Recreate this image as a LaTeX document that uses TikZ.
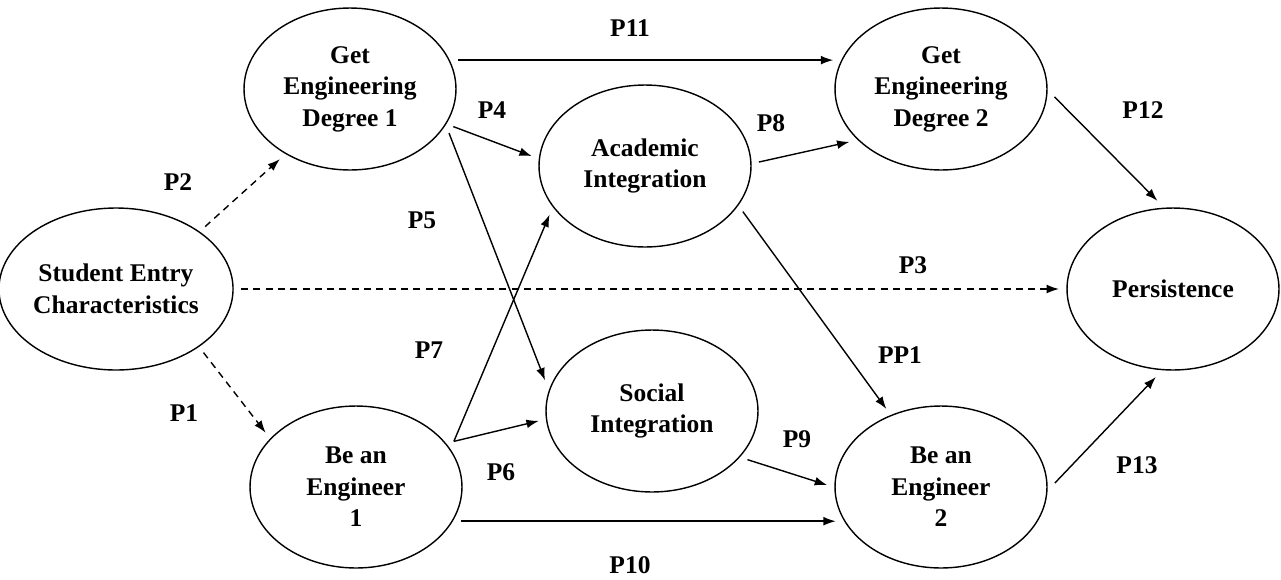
\documentclass[tikz,border=0pt]{standalone}
\usepackage{fontspec}
\setmainfont{Liberation Serif}
\usetikzlibrary{shapes.geometric,positioning,arrows.meta}

\tikzset{
  factor/.style={ellipse, draw, thick, minimum width=4.24cm, minimum height=3.24cm,
    inner sep=0pt, outer sep=0.16cm, align=center,
    font=\bfseries\fontsize{14.5}{18}\selectfont},
  plabel/.style={font=\bfseries\fontsize{14.5}{18}\selectfont},
  link/.style={-{Latex[length=7pt,width=5pt]}, thick},
  entry/.style={-{Latex[length=7pt,width=5pt]}, thick, dash pattern=on 4pt off 3pt}
}

\begin{document}
\begin{tikzpicture}[x=0.02cm, y=-0.02cm]
      \useasboundingbox (0,0) rectangle (1281,579);
      \node[factor] (SEC) at (116,289) {Student Entry\\Characteristics};
      \node[factor] (GED1) at (350,89) {Get\\Engineering\\Degree 1};
      \node[factor] (BAE1) at (356,487) {Be an\\Engineer\\1};
      \node[factor] (AI) at (645,166) {Academic\\Integration};
      \node[factor] (SI) at (652,411) {Social\\Integration};
      \node[factor] (GED2) at (941,89) {Get\\Engineering\\Degree 2};
      \node[factor] (BAE2) at (941,487) {Be an\\Engineer\\2};
      \node[factor] (PER) at (1173,289) {Persistence};
      \draw[entry] (SEC.35) -- (GED1.225);
      \draw[entry] (SEC.-36) -- (BAE1.149);
      \draw[entry] (SEC.east) -- (PER.west);
      \draw[link] (GED1.15) -- (GED2.165);
      \draw[link] (GED1.-20) -- (AI.175);
      \draw[link] (GED1.-24) -- (SI.164);
      \draw[link] (BAE1.25) -- (AI.207);
      \draw[link] (BAE1.25) -- (SI.185);
      \draw[link] (BAE1.-18) -- (BAE2.198);
      \draw[link] (AI.2) -- (GED2.210);
      \draw[link] (AI.-25) -- (BAE2.125);
      \draw[link] (SI.-27) -- (BAE2.179);
      \draw[link] (GED2.-4) -- (PER.100);
      \draw[link] (BAE2.2) -- (PER.259);
      \node[plabel] (lP1) at (184,413) {P1};
      \node[plabel] (lP2) at (178,182) {P2};
      \node[plabel] (lP3) at (913,265) {P3};
      \node[plabel] (lP4) at (492,110) {P4};
      \node[plabel] (lP5) at (422,220) {P5};
      \node[plabel] (lP6) at (501,472) {P6};
      \node[plabel] (lP7) at (429,350) {P7};
      \node[plabel] (lP8) at (771,123) {P8};
      \node[plabel] (lP9) at (797,439) {P9};
      \node[plabel] (lP10) at (630,565) {P10};
      \node[plabel] (lP11) at (630,28) {P11};
      \node[plabel] (lP12) at (1143,110) {P12};
      \node[plabel] (lP13) at (1137,465) {P13};
      \node[plabel] (lPP1) at (900,355) {PP1};
    \end{tikzpicture}
\end{document}
